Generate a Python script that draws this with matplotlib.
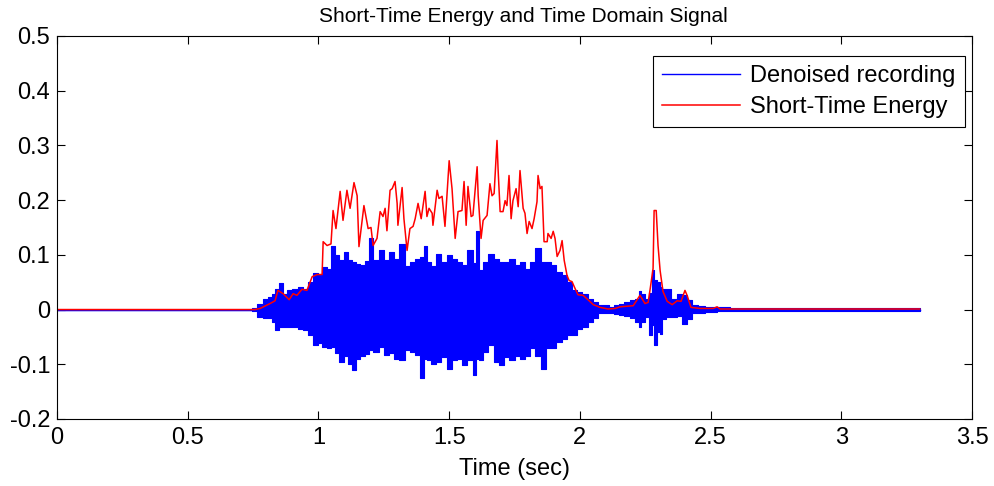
import numpy as np
import matplotlib
matplotlib.use('Agg')
import matplotlib.pyplot as plt

plt.rcParams['font.family'] = ['Liberation Sans', 'DejaVu Sans']

# Denoised recording, envelope of the waveform (sec, upper, lower)
sig_t = [0.0, 0.74, 0.75, 0.777, 0.796, 0.815, 0.826, 0.842, 0.857, 0.872, 0.891,
         0.91, 0.93, 0.949, 0.968, 0.987, 1.006, 1.025, 1.037, 1.056, 1.071, 1.09,
         1.106, 1.121, 1.135, 1.15, 1.17, 1.186, 1.197, 1.22, 1.24, 1.26, 1.28,
         1.30, 1.32, 1.34, 1.36, 1.38, 1.40, 1.408, 1.42, 1.44, 1.46, 1.48, 1.50,
         1.52, 1.54, 1.56, 1.58, 1.60, 1.607, 1.62, 1.64, 1.66, 1.68, 1.70, 1.72,
         1.74, 1.76, 1.78, 1.80, 1.82, 1.84, 1.86, 1.88, 1.90, 1.92, 1.94, 1.96,
         1.98, 2.00, 2.02, 2.04, 2.06, 2.08, 2.10, 2.12, 2.14, 2.16, 2.18, 2.20,
         2.22, 2.23, 2.24, 2.26, 2.27, 2.28, 2.29, 2.30, 2.31, 2.32, 2.34, 2.36,
         2.38, 2.40, 2.42, 2.44, 2.46, 2.50, 2.55, 2.60, 2.65, 3.30]
sig_hi = [0.0, 0.0, 0.003, 0.011, 0.02, 0.023, 0.029, 0.037, 0.048, 0.029, 0.035,
          0.038, 0.042, 0.038, 0.051, 0.066, 0.063, 0.078, 0.075, 0.117, 0.099, 0.09,
          0.105, 0.09, 0.087, 0.083, 0.081, 0.088, 0.13, 0.09, 0.108, 0.09, 0.105,
          0.093, 0.12, 0.079, 0.087, 0.093, 0.096, 0.117, 0.087, 0.079, 0.102, 0.087,
          0.099, 0.093, 0.087, 0.081, 0.108, 0.085, 0.144, 0.072, 0.087, 0.102, 0.093,
          0.087, 0.087, 0.093, 0.081, 0.087, 0.075, 0.087, 0.112, 0.087, 0.087, 0.081,
          0.069, 0.063, 0.051, 0.035, 0.032, 0.029, 0.02, 0.014, 0.008, 0.008, 0.005,
          0.009, 0.011, 0.013, 0.017, 0.02, 0.033, 0.029, 0.02, 0.03, 0.072, 0.054,
          0.05, 0.041, 0.038, 0.038, 0.02, 0.029, 0.026, 0.017, 0.008, 0.007, 0.005,
          0.004, 0.002, 0.002, 0.002]
sig_lo = [0.0, 0.0, -0.003, -0.013, -0.016, -0.016, -0.022, -0.038, -0.032, -0.032,
          -0.032, -0.032, -0.035, -0.038, -0.047, -0.065, -0.062, -0.068, -0.071,
          -0.069, -0.08, -0.095, -0.084, -0.099, -0.111, -0.09, -0.084, -0.081,
          -0.074, -0.077, -0.068, -0.083, -0.08, -0.09, -0.093, -0.074, -0.077,
          -0.083, -0.126, -0.09, -0.093, -0.099, -0.096, -0.087, -0.108, -0.093,
          -0.09, -0.102, -0.093, -0.12, -0.09, -0.093, -0.077, -0.065, -0.096,
          -0.102, -0.087, -0.093, -0.084, -0.09, -0.084, -0.071, -0.084, -0.108,
          -0.071, -0.071, -0.059, -0.053, -0.047, -0.047, -0.035, -0.032, -0.023,
          -0.016, -0.007, -0.007, -0.006, -0.009, -0.01, -0.012, -0.016, -0.023,
          -0.032, -0.023, -0.014, -0.047, -0.029, -0.065, -0.041, -0.044, -0.017,
          -0.014, -0.014, -0.011, -0.026, -0.017, -0.007, -0.006, -0.004, -0.003,
          -0.002, -0.002, -0.002]

# Short-time energy (sec, value)
ste_t = [0.0, 0.757, 0.777, 0.815, 0.834, 0.845, 0.865, 0.888, 0.903, 0.918, 0.937,
         0.956, 0.976, 0.995, 1.014, 1.018, 1.033, 1.048, 1.056, 1.067, 1.083, 1.094,
         1.109, 1.121, 1.136, 1.148, 1.155, 1.174, 1.190, 1.201, 1.209, 1.224, 1.236,
         1.247, 1.255, 1.262, 1.274, 1.282, 1.293, 1.301, 1.304, 1.320, 1.327, 1.339,
         1.350, 1.362, 1.370, 1.381, 1.393, 1.408, 1.415, 1.423, 1.435, 1.438, 1.454,
         1.461, 1.473, 1.484, 1.500, 1.511, 1.523, 1.534, 1.549, 1.557, 1.565, 1.572,
         1.584, 1.591, 1.607, 1.611, 1.622, 1.630, 1.645, 1.656, 1.664, 1.672, 1.683,
         1.687, 1.695, 1.706, 1.714, 1.721, 1.729, 1.737, 1.744, 1.756, 1.764, 1.771,
         1.783, 1.790, 1.798, 1.806, 1.817, 1.825, 1.836, 1.840, 1.848, 1.855, 1.863,
         1.875, 1.878, 1.890, 1.898, 1.905, 1.913, 1.924, 1.932, 1.940, 1.951, 1.959,
         1.970, 1.982, 1.993, 2.012, 2.031, 2.051, 2.077, 2.108, 2.135, 2.154, 2.204,
         2.230, 2.249, 2.261, 2.269, 2.280, 2.284, 2.292, 2.299, 2.307, 2.318, 2.334,
         2.353, 2.372, 2.387, 2.402, 2.410, 2.425, 2.460, 2.510, 2.525, 2.536, 3.30]
ste_v = [0.0, 0.0, 0.002, 0.011, 0.016, 0.035, 0.029, 0.018, 0.029, 0.026, 0.037,
         0.035, 0.06, 0.064, 0.064, 0.124, 0.117, 0.12, 0.181, 0.148, 0.216, 0.163,
         0.218, 0.185, 0.232, 0.208, 0.115, 0.19, 0.148, 0.15, 0.117, 0.13, 0.179,
         0.17, 0.185, 0.144, 0.218, 0.221, 0.234, 0.194, 0.154, 0.223, 0.166, 0.108,
         0.148, 0.152, 0.166, 0.194, 0.166, 0.216, 0.17, 0.185, 0.176, 0.154, 0.218,
         0.203, 0.207, 0.152, 0.272, 0.221, 0.13, 0.179, 0.181, 0.234, 0.154, 0.225,
         0.17, 0.172, 0.261, 0.208, 0.13, 0.163, 0.172, 0.23, 0.208, 0.212, 0.309,
         0.258, 0.179, 0.179, 0.199, 0.19, 0.245, 0.166, 0.199, 0.221, 0.188, 0.254,
         0.185, 0.176, 0.139, 0.161, 0.148, 0.166, 0.197, 0.245, 0.221, 0.225, 0.124,
         0.124, 0.139, 0.13, 0.143, 0.13, 0.097, 0.108, 0.126, 0.09, 0.062, 0.053,
         0.051, 0.038, 0.027, 0.026, 0.018, 0.009, 0.004, 0.001, 0.002, 0.005, 0.007,
         0.026, 0.011, 0.013, 0.038, 0.075, 0.181, 0.181, 0.117, 0.071, 0.033, 0.015,
         0.009, 0.016, 0.015, 0.035, 0.026, 0.004, 0.002, 0.002, 0.005, 0.001, 0.001]

fig = plt.figure(figsize=(9.95, 4.86), dpi=100)
ax = fig.add_axes([0.0573, 0.1379, 0.9196, 0.7881])

ax.fill_between(sig_t, sig_lo, sig_hi, step='mid', color='#0000ff', linewidth=0.8)
ax.plot(sig_t, np.zeros(len(sig_t)), color='#0000ff', linewidth=1.0, label='Denoised recording')
ax.plot(ste_t, ste_v, color='#ff0000', linewidth=1.1, label='Short-Time Energy')

ax.set_xlim(0, 3.5)
ax.set_ylim(-0.2, 0.5)
ax.set_xticks(np.arange(0, 3.51, 0.5))
ax.set_xticklabels(['0', '0.5', '1', '1.5', '2', '2.5', '3', '3.5'])
ax.set_yticks(np.arange(-0.2, 0.51, 0.1))
ax.set_yticklabels(['-0.2', '-0.1', '0', '0.1', '0.2', '0.3', '0.4', '0.5'])
ax.tick_params(direction='in', length=6, width=0.8, top=True, right=True, labelsize=17)
ax.tick_params(axis='x', pad=6)
ax.tick_params(axis='y', pad=5)
for s in ax.spines.values():
    s.set_linewidth(0.8)

ax.set_title('Short-Time Energy and Time Domain Signal', fontsize=15, pad=10, x=0.51)
ax.set_xlabel('Time (sec)', fontsize=17, labelpad=6)

leg = ax.legend(loc='upper right', bbox_to_anchor=(0.992, 0.948), fontsize=17,
                handlelength=3.3, fancybox=False, framealpha=1, edgecolor='black',
                borderaxespad=0, handletextpad=0.45, labelspacing=0.38, borderpad=0.38)
leg.get_frame().set_linewidth(0.8)

fig.savefig('out.png', dpi=100)
